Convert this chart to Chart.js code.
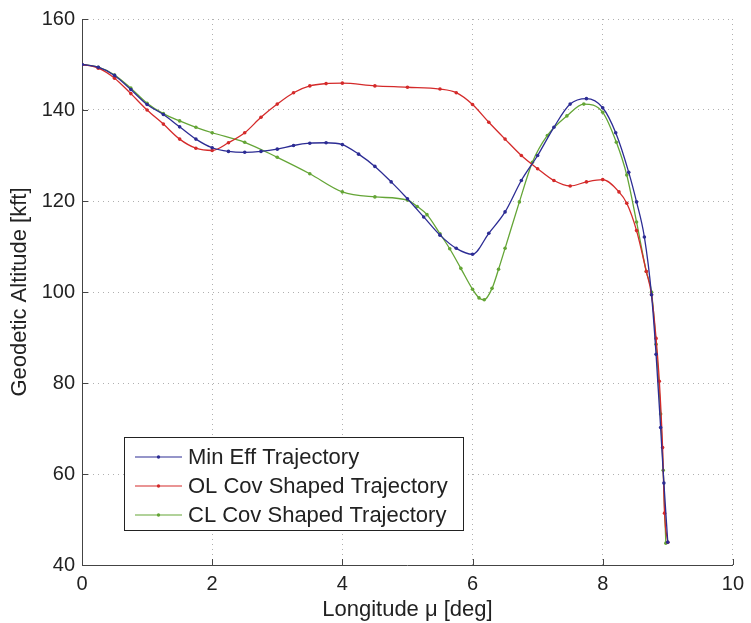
<!DOCTYPE html>
<html>
<head>
<meta charset="utf-8">
<script src="https://cdn.jsdelivr.net/npm/chart.js@4/dist/chart.umd.min.js"></script>
<style>
  html, body { margin: 0; padding: 0; background: #fff; }
  #wrap { width: 751px; height: 623px; }
</style>
</head>
<body>
<div id="wrap"><canvas id="c" width="751" height="623"></canvas></div>
<script>
// values
const minEffX = [0, 0.25, 0.5, 0.75, 1.0, 1.25, 1.5, 1.75, 2.0, 2.25, 2.5, 2.75, 3.0, 3.25, 3.5, 3.75, 4.0, 4.25, 4.5, 4.75, 5.0, 5.25, 5.5, 5.75, 6.0, 6.25, 6.5, 6.75, 7.0, 7.25, 7.5, 7.75, 8.0, 8.2, 8.4, 8.52, 8.64, 8.75, 8.82, 8.89, 8.94, 9.0];
const minEffY = [150, 149.4, 147.6, 144.5, 141.2, 139.0, 136.3, 133.6, 131.7, 130.9, 130.7, 130.9, 131.4, 132.2, 132.7, 132.8, 132.4, 130.3, 127.6, 124.2, 120.5, 116.5, 112.5, 109.6, 108.3, 112.9, 117.6, 124.5, 130, 136.2, 141.3, 142.5, 140.5, 135, 126.3, 119.8, 112.1, 99.4, 86.3, 70.2, 58, 45];

const olCovX = [0, 0.25, 0.5, 0.75, 1.0, 1.25, 1.5, 1.75, 2.0, 2.25, 2.5, 2.75, 3.0, 3.25, 3.5, 3.75, 4.0, 4.5, 5.0, 5.5, 5.75, 6.0, 6.25, 6.5, 6.75, 7.0, 7.25, 7.5, 7.75, 8.0, 8.25, 8.37, 8.52, 8.67, 8.75, 8.82, 8.87, 8.92, 8.95, 9.0];
const olCovY = [150, 149.2, 147, 143.6, 140, 136.9, 133.6, 131.6, 131.1, 132.8, 135, 138.4, 141.3, 143.8, 145.3, 145.8, 145.9, 145.3, 145, 144.6, 143.8, 141.2, 137.3, 133.6, 130, 127.1, 124.5, 123.3, 124.2, 124.7, 122, 119.5, 113.5, 104.5, 99.4, 89.8, 80.4, 65.8, 51.4, 45];

const clCovX = [0, 0.25, 0.5, 0.75, 1.0, 1.25, 1.5, 1.75, 2.0, 2.5, 3.0, 3.5, 4.0, 4.5, 5.0, 5.15, 5.3, 5.5, 5.65, 5.82, 6.0, 6.1, 6.18, 6.3, 6.4, 6.5, 6.72, 6.92, 7.15, 7.45, 7.71, 8.0, 8.21, 8.37, 8.52, 8.67, 8.75, 8.82, 8.89, 8.93, 8.97];
const clCovY = [150, 149.4, 147.7, 144.8, 141.5, 139.2, 137.6, 136.2, 135, 132.9, 129.6, 126, 122, 120.9, 120.2, 118.8, 117, 112.8, 109.5, 105.2, 100.6, 98.7, 98.3, 100.8, 105, 109.6, 119.8, 128.5, 134.4, 138.7, 141.3, 139.5, 132.9, 125.7, 115.4, 104.5, 100, 88.5, 73.2, 60.8, 44.8];

const seriesNames = ['Min Eff Trajectory', 'OL Cov Shaped Trajectory', 'CL Cov Shaped Trajectory'];
const seriesColors = ['#2c2c94', '#d42a2a', '#64a536'];
const xTicks = [0, 2, 4, 6, 8, 10];
const yTicks = [40, 60, 80, 100, 120, 140, 160];

const FONT = '"Liberation Sans", Arial, Helvetica, sans-serif';

function pts(xs, ys) {
  return xs.map((x, i) => ({ x: x, y: ys[i] }));
}

function makeSet(i, xs, ys) {
  return {
    label: seriesNames[i],
    data: pts(xs, ys),
    borderColor: seriesColors[i],
    backgroundColor: seriesColors[i],
    borderWidth: 1.3,
    pointRadius: 1.8,
    pointHoverRadius: 1.8,
    pointBorderWidth: 0,
    cubicInterpolationMode: 'monotone',
    fill: false
  };
}

// inward tick marks like the original plot
const innerTicks = {
  id: 'innerTicks',
  afterDatasetsDraw(chart) {
    const { ctx, chartArea: a, scales } = chart;
    ctx.save();
    ctx.strokeStyle = '#444';
    ctx.lineWidth = 1;
    ctx.beginPath();
    xTicks.forEach(v => {
      const px = Math.round(scales.x.getPixelForValue(v)) + 0.5;
      ctx.moveTo(px, a.bottom);
      ctx.lineTo(px, a.bottom - 6);
    });
    yTicks.forEach(v => {
      const py = Math.round(scales.y.getPixelForValue(v)) + 0.5;
      ctx.moveTo(a.left, py);
      ctx.lineTo(a.left + 6, py);
    });
    ctx.stroke();
    ctx.restore();
  }
};

// legend box drawn inside the plot area
const boxLegend = {
  id: 'boxLegend',
  afterDraw(chart) {
    const ctx = chart.ctx;
    const x0 = 124, y0 = 437, w = 339, h = 93;
    ctx.save();
    ctx.fillStyle = '#fff';
    ctx.fillRect(x0, y0, w, h);
    ctx.strokeStyle = '#222';
    ctx.lineWidth = 1;
    ctx.strokeRect(x0 + 0.5, y0 + 0.5, w, h);
    ctx.font = '22px ' + FONT;
    ctx.textBaseline = 'middle';
    chart.data.datasets.forEach((ds, i) => {
      const y = y0 + 20 + i * 29;
      ctx.strokeStyle = ds.borderColor;
      ctx.lineWidth = 1.2;
      ctx.beginPath();
      ctx.moveTo(x0 + 11, y);
      ctx.lineTo(x0 + 58, y);
      ctx.stroke();
      ctx.fillStyle = ds.borderColor;
      ctx.beginPath();
      ctx.arc(x0 + 34.5, y, 1.7, 0, Math.PI * 2);
      ctx.fill();
      ctx.fillStyle = '#222';
      ctx.fillText(ds.label, x0 + 64, y + 1);
    });
    ctx.restore();
  }
};

window.onload = () => {
  const ctx = document.getElementById('c').getContext('2d');
  new Chart(ctx, {
    type: 'line',
    data: {
      datasets: [
        makeSet(0, minEffX, minEffY),
        makeSet(1, olCovX, olCovY),
        makeSet(2, clCovX, clCovY)
      ]
    },
    options: {
      responsive: false,
      animation: false,
      layout: { padding: { left: 0, right: 14, top: 16, bottom: 0 } },
      plugins: {
        legend: { display: false },
        tooltip: { enabled: false }
      },
      scales: {
        x: {
          type: 'linear',
          min: 0,
          max: 10,
          afterBuildTicks: s => { s.ticks = xTicks.map(v => ({ value: v })); },
          afterFit: s => { s.height = 58; },
          ticks: { color: '#222', font: { family: FONT, size: 20 }, padding: 7 },
          grid: { color: '#b0b0b0', drawTicks: false },
          border: { display: true, color: '#444', width: 1, dash: [1, 4] },
          title: {
            display: true,
            text: 'Longitude \u03bc [deg]',
            color: '#222',
            font: { family: FONT, size: 22 },
            padding: { top: 0, bottom: 0 }
          }
        },
        y: {
          type: 'linear',
          min: 40,
          max: 160,
          afterBuildTicks: s => { s.ticks = yTicks.map(v => ({ value: v })); },
          afterFit: s => { s.width = 82; },
          ticks: { color: '#222', font: { family: FONT, size: 20 }, padding: 7 },
          grid: { color: '#b0b0b0', drawTicks: false },
          border: { display: true, color: '#444', width: 1, dash: [1, 4] },
          title: {
            display: true,
            text: 'Geodetic Altitude [kft]',
            color: '#222',
            font: { family: FONT, size: 22 },
            padding: { top: 7, bottom: 0 }
          }
        }
      }
    },
    plugins: [innerTicks, boxLegend]
  });
};
</script>
</body>
</html>
